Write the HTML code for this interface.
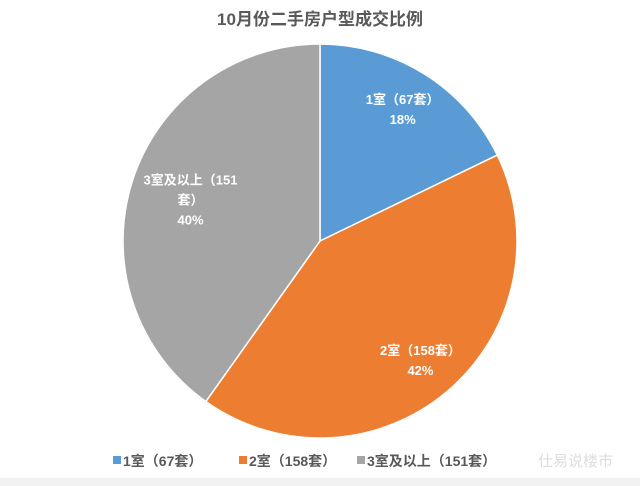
<!DOCTYPE html>
<html><head><meta charset="utf-8"><style>
body{margin:0;width:640px;height:481px;background:#f2f2f2;overflow:hidden;font-family:"Liberation Sans","Noto Sans CJK SC",sans-serif}
#chart{position:absolute;left:0;top:0;width:640px;height:478px;background:#fff}
</style></head><body>
<div id="chart">
<svg id="svg" width="640" height="481">
<text x="320" y="25" text-anchor="middle" font-size="17" font-weight="bold" fill="#595959">10月份二手房户型成交比例</text>
</svg>
</div>
<script>
const categories=["1室（67套）","2室（158套）","3室及以上（151套）"];
const values=[67,158,151];
const colors=["#5B9BD5","#ED7D31","#A5A5A5"];
const labelLines=[["1室（67套）"],["2室（158套）"],["3室及以上（151","套）"]];
const labelRadiusFactor=[0.79,0.79,0.69];
const svg=document.getElementById('svg');
const NS="http://www.w3.org/2000/svg";
const cx=320,cy=241,r=197;
const total=values.reduce((a,b)=>a+b,0);
let a0=0;
values.forEach((v,i)=>{
  const a1=a0+v/total*2*Math.PI;
  const x0=cx+r*Math.sin(a0),y0=cy-r*Math.cos(a0),x1=cx+r*Math.sin(a1),y1=cy-r*Math.cos(a1);
  const p=document.createElementNS(NS,'path');
  p.setAttribute('d',`M${cx},${cy}L${x0},${y0}A${r},${r} 0 ${a1-a0>Math.PI?1:0} 1 ${x1},${y1}Z`);
  p.setAttribute('fill',colors[i]);p.setAttribute('stroke','#fff');p.setAttribute('stroke-width','1.5');
  
  
  svg.appendChild(p);
  const am=(a0+a1)/2,lr=r*labelRadiusFactor[i];
  const lx=cx+lr*Math.sin(am),ly=cy-lr*Math.cos(am);
  const lines=labelLines[i].concat([Math.round(v/total*100)+'%']);
  const t=document.createElementNS(NS,'text');
  t.setAttribute('text-anchor','middle');t.setAttribute('font-size','13');t.setAttribute('font-weight','bold');t.setAttribute('fill','#fff');
  
  
  lines.forEach((s,k)=>{const ts=document.createElementNS(NS,'tspan');ts.setAttribute('x',lx);ts.setAttribute('y',ly+(k-(lines.length-1)/2)*20+5);ts.textContent=s;t.appendChild(ts);});
  svg.appendChild(t);
  a0=a1;
});
const lxs=[113,239,357];
categories.forEach((c,i)=>{
  const g=document.createElementNS(NS,'g');
  
  
  const rc=document.createElementNS(NS,'rect');
  rc.setAttribute('x',lxs[i]);rc.setAttribute('y',456);rc.setAttribute('width',8);rc.setAttribute('height',8);rc.setAttribute('fill',colors[i]);
  g.appendChild(rc);
  const t=document.createElementNS(NS,'text');
  t.setAttribute('x',lxs[i]+10);t.setAttribute('y',466);t.setAttribute('font-size','14');t.setAttribute('font-weight','bold');t.setAttribute('fill','#595959');
  t.textContent=c;g.appendChild(t);svg.appendChild(g);
});
const wm=document.createElementNS(NS,'text');
wm.setAttribute('x',538);wm.setAttribute('y',466);wm.setAttribute('font-size','15');wm.setAttribute('fill','#ddd');


wm.textContent='仕易说楼市';svg.appendChild(wm);
</script>
</body></html>
